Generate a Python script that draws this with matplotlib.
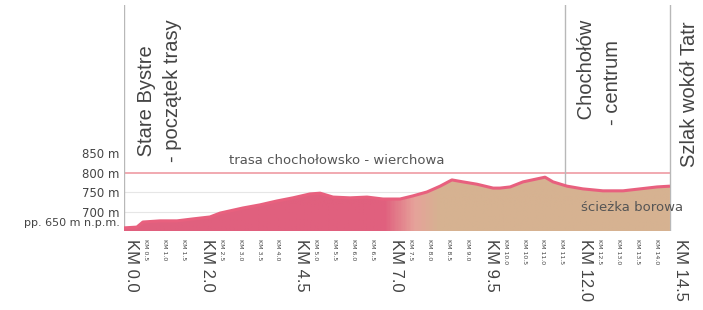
import matplotlib
matplotlib.use("Agg")
import matplotlib.pyplot as plt
import numpy as np
from matplotlib.colors import LinearSegmentedColormap

# elevation profile: distance (km) / height (m n.p.m.)
km = [0.0, 0.34, 0.5, 0.95, 1.4, 1.82, 2.27, 2.54, 3.14, 3.59, 4.04, 4.46,
      4.91, 5.18, 5.52, 5.97, 6.42, 6.84, 7.29, 7.63, 8.0, 8.35, 8.66, 8.95,
      9.32, 9.75, 9.93, 10.2, 10.54, 11.12, 11.33, 11.7, 12.12, 12.65, 13.18,
      13.63, 14.08, 14.42]
elev = [658, 660, 673, 676, 676, 681, 686, 696, 709, 717, 727, 735,
        745, 747, 737, 735, 737, 732, 732, 740, 750, 765, 781, 776,
        770, 760, 760, 763, 776, 788, 776, 765, 758, 753, 753,
        758, 763, 765]

major_km = [0.0, 2.0, 4.5, 7.0, 9.5, 12.0, 14.5]
major_labels = ["KM 0.0", "KM 2.0", "KM 4.5", "KM 7.0", "KM 9.5", "KM 12.0", "KM 14.5"]
minor_km = [0.5, 1.0, 1.5, 2.5, 3.0, 3.5, 4.0, 5.0, 5.5, 6.0, 6.5, 7.5, 8.0,
            8.5, 9.0, 10.0, 10.5, 11.0, 11.5, 12.5, 13.0, 13.5, 14.0]
minor_labels = ["KM %.1f" % k for k in minor_km]

y_ticks = [700, 750, 800, 850]
y_labels = ["700 m", "750 m", "800 m", "850 m"]
base_elev = 650
base_label = "pp. 650 m n.p.m."

# places along the route
place_km = [0.0, 11.65, 14.42]
place_names = [" Stare Bystre\n- początek trasy", " Chochołów\n- centrum", "Szlak wokół Tatr"]

route_name = "trasa chochołowsko - wierchowa"
route_level = 800
path_name = "ścieżka borowa"

fig = plt.figure(figsize=(7.03, 3.10), dpi=100)
ax = fig.add_axes([124 / 703, 79 / 310, (673 - 124) / 703, 226 / 310])
ax.set_xlim(0, 14.5)
ax.set_ylim(base_elev, base_elev + 226 / 0.39)

# gradient fill pink -> tan, clipped to the profile
poly = ax.fill_between(km, base_elev, elev, color="none", lw=0)
cmap = LinearSegmentedColormap.from_list(
    "route", [(0, "#e0607e"), (0.475, "#e0607e"), (0.53, "#e6a29a"),
              (0.575, "#d6b291"), (1, "#d6b291")])
grad = np.linspace(0, 1, 400)[None, :]
im = ax.imshow(grad, extent=[0, 14.5, base_elev, max(elev)], aspect="auto",
               cmap=cmap, origin="lower", zorder=1)
im.set_clip_path(poly.get_paths()[0], transform=ax.transData)
ax.plot(km, elev, color="#e8607e", lw=2.2, zorder=3, solid_capstyle="butt")

# reference lines (behind the fill)
for yv in [700, 750]:
    ax.hlines(yv, 0, km[-1], color="#e6e6e6", lw=0.8, zorder=0.5)
ax.hlines(route_level, 0, km[-1], color="#f0a2aa", lw=1.3, zorder=0.6)
for p in place_km:
    ax.axvline(p, color="#b8b8b8", lw=1.0, zorder=0.7)

# place names (vertical)
ax.text(0.34, 827, place_names[0], rotation=90, rotation_mode="anchor",
        ha="left", va="top", fontsize=14.5, color="#444444",
        family="Liberation Sans", linespacing=1.45)
ax.text(11.97, 922, place_names[1], rotation=90, rotation_mode="anchor",
        ha="left", va="top", fontsize=14.5, color="#444444",
        family="Liberation Sans", linespacing=1.45)
ax.text(14.69, 814, place_names[2], rotation=90, rotation_mode="anchor",
        ha="left", va="top", fontsize=14.5, color="#444444",
        family="Liberation Sans", clip_on=False)

ax.text(5.63, 832, route_name, ha="center", va="center", fontsize=9.5,
        color="#555555")
ax.text(13.42, 709, path_name, ha="center", va="center", fontsize=9.5,
        color="#555555", clip_on=False)

# axes / ticks
for s in ax.spines.values():
    s.set_visible(False)
ax.set_yticks(y_ticks, y_labels)
ax.tick_params(axis="y", length=0, pad=3, labelsize=8.5, labelcolor="#444444")
ax.text(-0.1, base_elev + 20, base_label, ha="right", va="center",
        fontsize=8, color="#444444", clip_on=False)

ax.set_xticks(major_km, major_labels, rotation=-90, ha="left",
              family="Liberation Sans")
ax.set_xticks(minor_km, minor_labels, minor=True, rotation=-90, ha="left")
ax.tick_params(axis="x", which="major", length=0, pad=6, labelsize=12,
               labelcolor="#444444")
ax.tick_params(axis="x", which="minor", length=0, pad=6, labelsize=4.5,
               labelcolor="#444444")

fig.savefig("out.png", dpi=100)
